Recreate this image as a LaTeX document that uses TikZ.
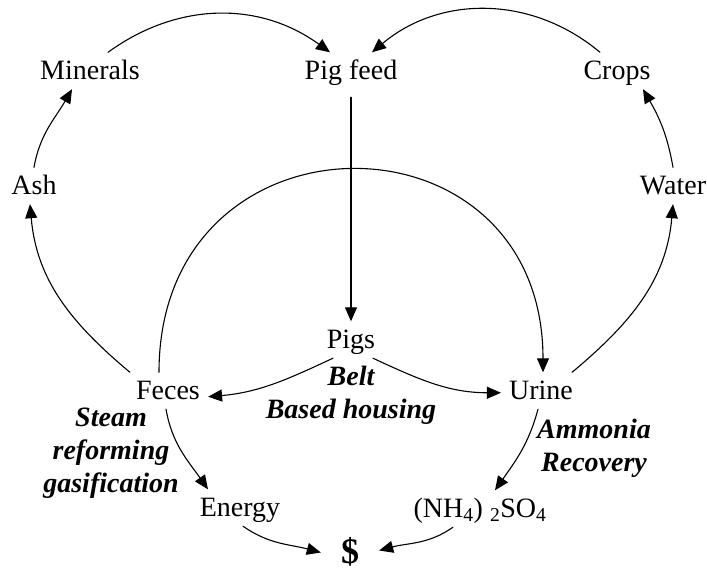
\documentclass[tikz,border=0pt]{standalone}
\usepackage{fontspec}
\setmainfont{Liberation Serif}
\usepackage{tikz}
\usetikzlibrary{arrows.meta}
\definecolor{ink}{HTML}{000000}
\tikzset{
  term/.style={text=ink, font=\fontsize{28}{33}\selectfont, inner sep=8pt,
    text height=18.5pt, text depth=2pt, anchor=base},
  how/.style={text=ink, font=\fontsize{28}{33}\selectfont\bfseries\itshape,
    align=center, anchor=base, inner sep=0pt},
  flow/.style={draw=ink, line width=1.1pt, line cap=round,
    -{Triangle[length=14pt,width=12pt]}},
}

\begin{document}
\begin{tikzpicture}[x=1pt,y=1pt]
  \useasboundingbox (0,0) rectangle (707,-571);
  % the things in the loop
  \node[term] (minerals) at (90,-79) {Minerals};
  \node[term] (feed) at (351,-79) {Pig feed};
  \node[term] (crops) at (617,-79) {Crops};
  \node[term] (ash) at (34,-194) {Ash};
  \node[term] (water) at (673,-194) {Water};
  \node[term] (pigs) at (351,-348) {Pigs};
  \node[term] (feces) at (168,-399) {Feces};
  \node[term] (urine) at (541,-399) {Urine};
  \node[term] (energy) at (240,-516) {Energy};
  \node[term] (nh4) at (480,-517) {(NH\textsubscript{4}) \textsubscript{2}SO\textsubscript{4}};
  \node[term, font=\fontsize{36}{40}\selectfont\bfseries, text height=24pt,
    text depth=3pt, inner xsep=20pt, inner ysep=4pt] (dollar) at (350,-563) {\$};

  % process labels (base is on the last line)
  \node[how] (belt) at (351,-418) {Belt\\Based housing};
  \node[how] (steam) at (111,-492) {Steam\\reforming\\gasification};
  \node[how] (ammonia) at (594,-471) {Ammonia\\Recovery};

  % outer cycle
  \draw[flow] ([xshift=18pt]minerals.north) to[out=36,in=144] ([xshift=-21pt]feed.north);
  \draw[flow] ([xshift=-17pt]crops.north) to[out=140,in=40] ([xshift=21pt]feed.north);
  \draw[flow] (ash.north) to[out=80,in=240] ([xshift=-18pt]minerals.south);
  \draw[flow] (water.north) to[out=100,in=300] ([xshift=26pt]crops.south);
  \draw[flow] ([xshift=2pt]feces.north west) to[out=140,in=275] ([xshift=-4pt]ash.south);
  \draw[flow] ([xshift=-9pt]urine.north east) to[out=40,in=265] (water.south);
  \draw[flow] ([yshift=-8pt]feed.south) -- (pigs.north);
  \draw[flow] ([xshift=-9pt]feces.north) to[out=90,in=90,looseness=1.8] ([xshift=2pt]urine.north);

  % pigs to manure and products
  \draw[flow] ([xshift=-18pt]pigs.south) to[out=205,in=5] ([yshift=-6pt]feces.east);
  \draw[flow] ([xshift=22pt]pigs.south) to[out=-25,in=180] ([yshift=-2pt]urine.west);
  \draw[flow] ([xshift=-2pt]feces.south) to[out=-80,in=125] ([xshift=-32pt]energy.north);
  \draw[flow] ([xshift=-3pt]urine.south) to[out=255,in=55] ([xshift=15pt]nh4.north);
  \draw[flow] ([xshift=3pt]energy.south) to[out=-35,in=165] (dollar.west);
  \draw[flow] ([xshift=-27pt]nh4.south) to[out=215,in=15] ([yshift=2pt]dollar.east);
\end{tikzpicture}
\end{document}
